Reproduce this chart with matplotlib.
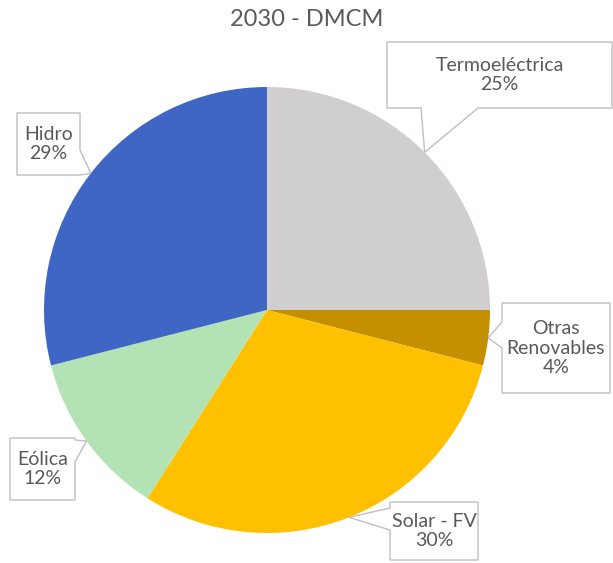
import numpy as np
import matplotlib
matplotlib.use("Agg")
import matplotlib.pyplot as plt
from matplotlib.patches import Polygon

# data
labels = ["Termoeléctrica", "Otras\nRenovables", "Solar - FV", "Eólica", "Hidro"]
shares = [25, 4, 30, 12, 29]
colors = ["#D0CECE", "#C49000", "#FFC000", "#B3E2B4", "#3F66C4"]
title = "2030 - DMCM"

plt.rcParams['font.family'] = ['Lato', 'DejaVu Sans']

W, H = 613, 563
fig = plt.figure(figsize=(W / 100, H / 100), dpi=100)
ax = fig.add_axes([0, 0, 1, 1])

cx, cy, R = 267, H - 310, 223
wedges, _ = ax.pie(shares, colors=colors, startangle=90, counterclock=False,
                   center=(cx, cy), radius=R, frame=True)
ax.set_xlim(0, W)
ax.set_ylim(0, H)
ax.set_aspect('equal')
ax.axis('off')

ax.text(W / 2, H - 20, title, ha='center', va='center', fontsize=17, color='#595959')

# callout boxes (x0, top, x1, bottom) in pixels from top-left, pointer side and its base
boxes = [
    ((387, 42, 612, 108), 'bottom', (421, 478)),
    ((502, 303, 610, 393), 'left', (322, 348)),
    ((390, 502, 478, 560), 'left', (508, 530)),
    ((10, 438, 75, 500), 'right', (440, 462)),
    ((17, 113, 80, 175), 'right', (150, 175)),
]

for w, lab, pct, (bx, side, base) in zip(wedges, labels, shares, boxes):
    ang = np.deg2rad((w.theta1 + w.theta2) / 2)
    tx, ty = cx + R * np.cos(ang), cy + R * np.sin(ang)
    x0, t, x1, b = bx
    y0, y1 = H - b, H - t
    if side == 'bottom':
        pts = [(x0, y1), (x1, y1), (x1, y0), (base[1], y0), (tx, ty), (base[0], y0), (x0, y0)]
    elif side == 'left':
        pts = [(x0, y1), (x1, y1), (x1, y0), (x0, y0), (x0, H - base[1]), (tx, ty), (x0, H - base[0])]
    else:
        pts = [(x0, y1), (x1, y1), (x1, H - base[0]), (tx, ty), (x1, H - base[1]), (x1, y0), (x0, y0)]
    ax.add_patch(Polygon(pts, closed=True, facecolor='white', edgecolor='#BFBFBF', lw=1, zorder=5))
    ax.text((x0 + x1) / 2, (y0 + y1) / 2, f"{lab}\n{pct}%", ha='center', va='center',
            fontsize=14, color='#595959', linespacing=1.2, zorder=6)

fig.savefig("out.png", dpi=100)
